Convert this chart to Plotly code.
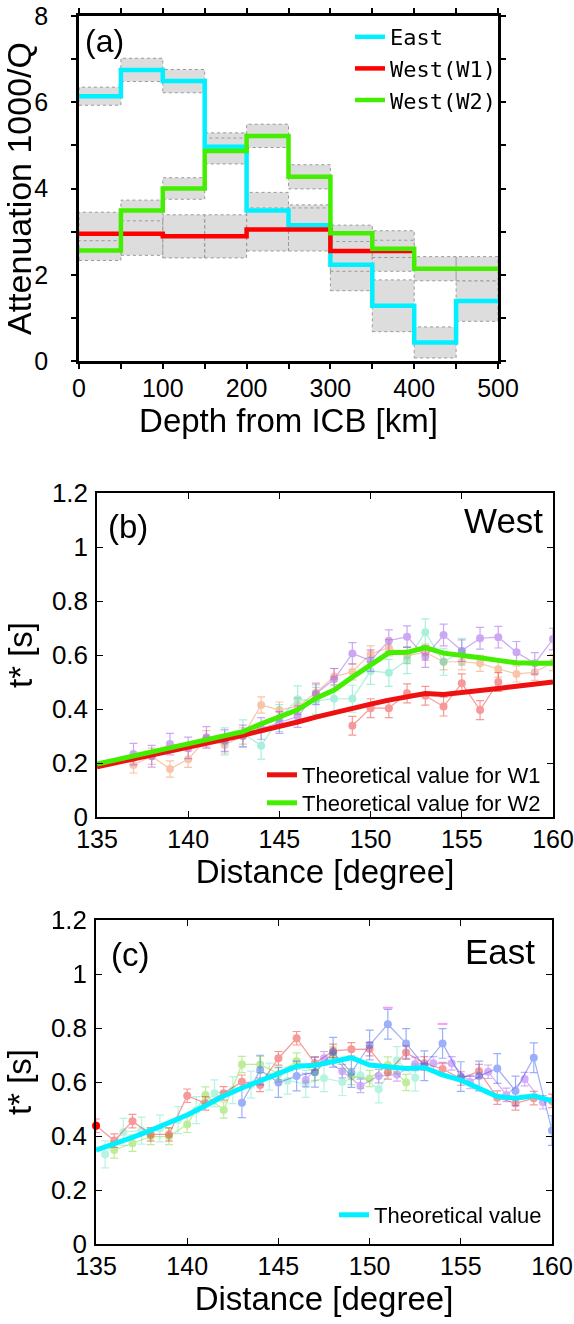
import plotly.graph_objects as go
from plotly.subplots import make_subplots

# ---- (a) attenuation per 50 km depth bin ----
depth_edges = [0, 50, 100, 150, 200, 250, 300, 350, 400, 450, 500]
east_q = [6.14, 6.75, 6.49, 4.97, 3.49, 3.15, 2.23, 1.28, 0.43, 1.39]
east_err = [0.21, 0.27, 0.27, 0.32, 0.42, 0.47, 0.60, 0.60, 0.36, 0.47]
w1_q = [2.95, 2.95, 2.89, 2.89, 3.05, 3.05, 2.55, 2.55]
w1_err = [0.50, 0.50, 0.50, 0.50, 0.50, 0.50, 0.47, 0.47]
w2_q = [2.56, 3.49, 4.00, 4.87, 5.22, 4.27, 2.96, 2.60, 2.14, 2.14]
w2_err = [0.23, 0.24, 0.25, 0.30, 0.27, 0.28, 0.19, 0.20, 0.28, 0.28]

# ---- (b) West t* ----
dist = list(range(135, 161))
b_theo_w1 = [0.186, 0.200, 0.215, 0.229, 0.244, 0.258, 0.273, 0.288, 0.303, 0.318, 0.334, 0.352, 0.370,
             0.387, 0.403, 0.418, 0.433, 0.445, 0.457, 0.454, 0.460, 0.468, 0.476, 0.484, 0.492, 0.500]
b_theo_w2 = [0.196, 0.211, 0.226, 0.241, 0.255, 0.268, 0.282, 0.298, 0.316, 0.345, 0.370, 0.397, 0.440,
             0.470, 0.518, 0.563, 0.608, 0.610, 0.627, 0.607, 0.600, 0.590, 0.580, 0.571, 0.569, 0.569]

b_purple_x = list(range(137, 161))
b_purple = [0.233, 0.225, 0.270, 0.256, 0.295, 0.283, 0.300, 0.328, 0.350, 0.372, 0.456, 0.510,
            0.606, 0.579, 0.653, 0.668, 0.594, 0.674, 0.616, 0.662, 0.666, 0.610, 0.569, 0.659]
b_purple_err = 0.04
b_orange_x = list(range(137, 161))
b_orange = [0.193, 0.225, 0.178, 0.214, 0.290, 0.267, 0.300, 0.415, 0.396, 0.410, 0.460, 0.520,
            0.538, 0.604, 0.627, 0.598, 0.610, 0.575, 0.575, 0.569, 0.548, 0.530, 0.536, 0.572]
b_orange_err = 0.03
b_aqua_x = list(range(142, 156))
b_aqua = [0.280, 0.310, 0.264, 0.366, 0.436, 0.430, 0.438, 0.438, 0.541, 0.534, 0.581, 0.684, 0.575, 0.612]
b_aqua_err = 0.05
b_red_x = list(range(149, 158))
b_red = [0.338, 0.403, 0.403, 0.458, 0.449, 0.409, 0.495, 0.396, 0.500]
b_red_err = 0.035

# ---- (c) East t* ----
c_theo = [0.348, 0.370, 0.395, 0.421, 0.448, 0.478, 0.512, 0.548, 0.578, 0.605, 0.632, 0.658, 0.662,
          0.675, 0.690, 0.663, 0.657, 0.650, 0.654, 0.626, 0.607, 0.576, 0.546, 0.540, 0.549, 0.530]

c_red_x = list(range(135, 161))
c_red = [0.438, 0.383, 0.455, 0.406, 0.406, 0.549, 0.521, 0.558, 0.601, 0.589, 0.688, 0.762, 0.669,
         0.715, 0.721, 0.722, 0.636, 0.709, 0.669, 0.648, 0.613, 0.640, 0.542, 0.521, 0.540, 0.530]
c_red_err = 0.025
c_green_x = list(range(136, 153))
c_green = [0.348, 0.373, 0.398, 0.398, 0.443, 0.552, 0.496, 0.665, 0.665, 0.630, 0.678, 0.636,
           0.700, 0.620, 0.613, 0.663, 0.598]
c_green_err = 0.03
c_blue_x = list(range(143, 161))
c_blue = [0.523, 0.644, 0.598, 0.622, 0.636, 0.710, 0.635, 0.737, 0.814, 0.743, 0.660, 0.743,
          0.620, 0.622, 0.650, 0.567, 0.690, 0.420]
c_blue_err = 0.055
c_blue_cap_x = [151, 154]
c_blue_cap = [0.875, 0.815]
c_purple_x = [146.5, 147.5, 148.5, 149.5, 150.5, 151.5, 152.5, 153.5, 154.5, 155.5, 156.5, 157.5, 158.5, 159.5]
c_purple = [0.607, 0.688, 0.640, 0.586, 0.622, 0.628, 0.667, 0.669, 0.669, 0.600, 0.638, 0.552, 0.611, 0.525]
c_purple_err = 0.025
c_aqua_x = [135.5, 136.5, 137.5, 138.5, 139.5, 140.5, 141.5, 142.5, 143.5, 144.5, 145.5, 146.5,
            147.5, 148.5, 149.5, 150.5, 151.5, 152.5]
c_aqua = [0.332, 0.415, 0.420, 0.428, 0.459, 0.496, 0.558, 0.570, 0.590, 0.620, 0.605, 0.593,
          0.614, 0.600, 0.625, 0.573, 0.681, 0.616]
c_aqua_err = 0.05

FONT = "Liberation Sans, Arial, sans-serif"
W, H = 574, 1324


def boxes(vals, errs):
    xs, ys = [], []
    for i, (v, e) in enumerate(zip(vals, errs)):
        x0, x1 = depth_edges[i], depth_edges[i + 1]
        xs += [x0, x1, x1, x0, x0, None]
        ys += [v - e, v - e, v + e, v + e, v - e, None]
    return xs, ys


fig = make_subplots(rows=3, cols=1)

# error boxes first so the steps sit on top
for vals, errs in [(east_q, east_err), (w1_q, w1_err), (w2_q, w2_err)]:
    bx, by = boxes(vals, errs)
    fig.add_trace(go.Scatter(x=bx, y=by, mode="lines", fill="toself", fillcolor="#dddddd",
                             line=dict(color="#999999", width=1, dash="dot"),
                             showlegend=False, hoverinfo="skip"), row=1, col=1)

for name, vals, col in [("East", east_q, "#00f0ff"), ("West(W1)", w1_q, "#ff0000"),
                        ("West(W2)", w2_q, "#44ee00")]:
    fig.add_trace(go.Scatter(x=depth_edges[:len(vals) + 1], y=vals + [vals[-1]], mode="lines",
                             line=dict(color=col, width=4.5, shape="hv"), name=name,
                             legend="legend"), row=1, col=1)


def obs(x, y, err, col, row):
    fig.add_trace(go.Scatter(x=x, y=y, mode="lines+markers", opacity=0.45,
                             line=dict(color=col, width=1.2), marker=dict(color=col, size=8),
                             error_y=dict(type="constant", value=err, color=col, thickness=1.2, width=4),
                             showlegend=False), row=row, col=1)


obs(b_orange_x, b_orange, b_orange_err, "#f08040", 2)
obs(b_aqua_x, b_aqua, b_aqua_err, "#40e0b0", 2)
obs(b_red_x, b_red, b_red_err, "#f02020", 2)
obs(b_purple_x, b_purple, b_purple_err, "#9040e8", 2)
fig.add_trace(go.Scatter(x=dist, y=b_theo_w1, mode="lines", line=dict(color="#ee1111", width=5),
                         name="Theoretical value for W1", legend="legend2"), row=2, col=1)
fig.add_trace(go.Scatter(x=dist, y=b_theo_w2, mode="lines", line=dict(color="#44ee00", width=5),
                         name="Theoretical value for W2", legend="legend4"), row=2, col=1)

obs(c_aqua_x, c_aqua, c_aqua_err, "#60e8c0", 3)
obs(c_green_x, c_green, c_green_err, "#70d820", 3)
obs(c_red_x, c_red, c_red_err, "#f02020", 3)
obs(c_purple_x, c_purple, c_purple_err, "#a050f0", 3)
obs(c_blue_x, c_blue, c_blue_err, "#2050f0", 3)
fig.add_trace(go.Scatter(x=c_red_x[:1], y=c_red[:1], mode="markers", marker=dict(color="#ff0000", size=8),
                         showlegend=False, cliponaxis=False), row=3, col=1)
fig.add_trace(go.Scatter(x=c_blue_cap_x, y=c_blue_cap, mode="markers",
                         marker=dict(symbol="line-ew-open", size=7, line=dict(color="#1040ff", width=2)),
                         showlegend=False), row=3, col=1)
fig.add_trace(go.Scatter(x=dist, y=c_theo, mode="lines", line=dict(color="#00f0ff", width=5),
                         name="Theoretical value", legend="legend3"), row=3, col=1)

# axes: domains taken from the pixel boxes of the three frames
dom = {1: ((79, 498), (16, 361)), 2: ((97, 553), (493, 817)), 3: ((96, 552), (920, 1244))}
for r, ((x0, x1), (y0, y1)) in dom.items():
    fig.update_xaxes(domain=[x0 / W, x1 / W], row=r, col=1)
    fig.update_yaxes(domain=[1 - y1 / H, 1 - y0 / H], row=r, col=1)

common = dict(showline=True, linecolor="black", mirror="allticks", showgrid=False, zeroline=False,
              automargin=False, ticklabeloverflow="allow", tickcolor="black",
              tickfont=dict(size=25, color="black"))
fig.update_xaxes(range=[0, 500], dtick=100, ticks="outside", ticklen=5, linewidth=2.5, tickwidth=1.5,
                 minor=dict(dtick=50, ticks="outside", ticklen=5, tickcolor="black", tickwidth=1.5),
                 ticklabelstandoff=-2,
                 title=dict(text="Depth from ICB [km]", font=dict(size=33), standoff=6),
                 row=1, col=1, **common)
fig.update_yaxes(range=[0, 8], dtick=2, ticks="outside", ticklen=5, linewidth=2.5, tickwidth=1.5,
                 minor=dict(dtick=1, ticks="outside", ticklen=5, tickcolor="black", tickwidth=1.5),
                 ticklabelstandoff=18,
                 title=dict(text="Attenuation 1000/Q", font=dict(size=34), standoff=8),
                 row=1, col=1, **common)
for r in (2, 3):
    fig.update_xaxes(range=[135, 160], dtick=5, ticks="inside", ticklen=6, linewidth=1.5, tickwidth=1.2,
                     ticklabelstandoff=-1,
                     title=dict(text="Distance [degree]", font=dict(size=33), standoff=2),
                     row=r, col=1, **common)
    fig.update_yaxes(range=[0, 1.2], dtick=0.2, ticks="inside", ticklen=6, linewidth=1.5, tickwidth=1.2,
                     ticklabelstandoff=2,
                     title=dict(text="t* [s]", font=dict(size=33), standoff=9),
                     row=r, col=1, **common)
    fig.update_yaxes(tickfont=dict(size=26), row=r, col=1)

ann = [("(a)", 104, 41, 32, "center"), ("(b)", 128, 526, 33, "center"), ("West", 545, 520, 35, "right"),
       ("(c)", 130, 954, 33, "center"), ("East", 537, 951, 35, "right")]
for txt, px, py, sz, xa in ann:
    fig.add_annotation(text=txt, x=px / W, y=1 - py / H, xref="paper", yref="paper", showarrow=False,
                       xanchor=xa, yanchor="middle", font=dict(size=sz, color="black"))

leg = dict(xanchor="left", yanchor="middle", bgcolor="rgba(0,0,0,0)", font=dict(size=22))
fig.update_layout(
    width=W, height=H, margin=dict(l=0, r=0, t=0, b=0),
    plot_bgcolor="white", paper_bgcolor="white",
    font=dict(family=FONT, color="black"),
    legend=dict(x=350 / W, y=1 - 16 / H, xanchor="left", yanchor="top", bgcolor="rgba(0,0,0,0)",
                font=dict(family="DejaVu Sans Mono", size=22)),
    legend2=dict(leg, x=262 / W, y=1 - 775 / H),
    legend4=dict(leg, x=262 / W, y=1 - 803 / H),
    legend3=dict(leg, x=334 / W, y=1 - 1215 / H),
)

# the page body has a default 8px margin; drop it so the figure fills the window
fig.write_html("out.html", config={"displayModeBar": False},
               post_script="document.body.style.margin='0px';")
